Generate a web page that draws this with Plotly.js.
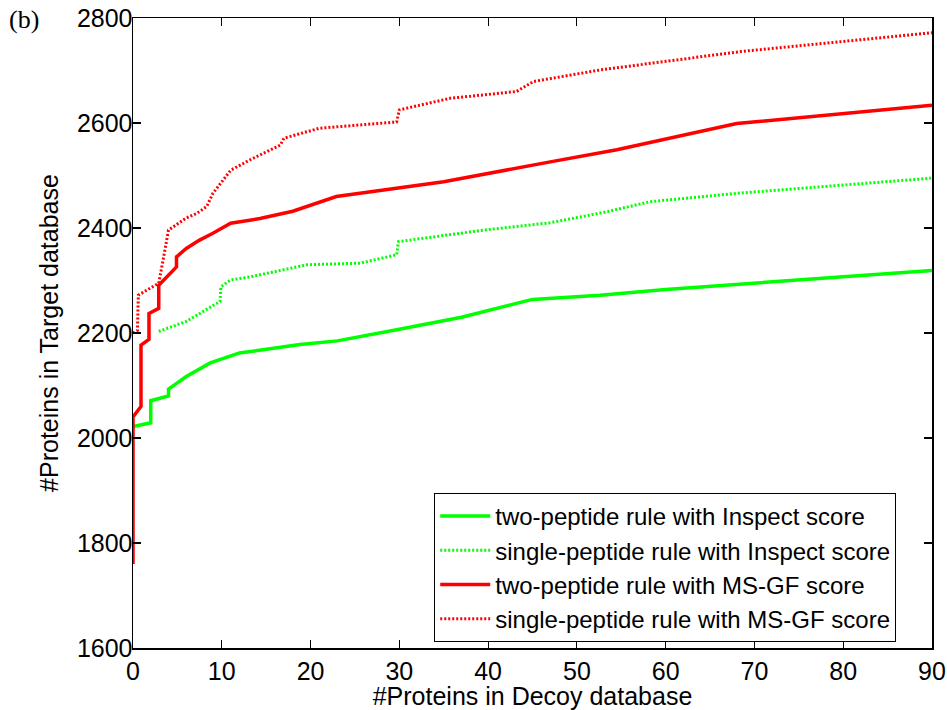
<!DOCTYPE html>
<html>
<head>
<meta charset="utf-8">
<script src="https://cdn.plot.ly/plotly-3.0.1.min.js"></script>
<style>html,body{margin:0;padding:0;background:#fff;}#chart{width:947px;height:710px;}</style>
</head>
<body>
<div id="chart"></div>
<script>
// Two-peptide rule, Inspect score (green solid)
const greenSolidX = [0, 2, 2, 4, 4, 6, 8.7, 12, 18.8, 23, 30, 37, 45, 52.6, 60, 70, 80, 90];
const greenSolidY = [2022, 2029, 2071, 2080, 2093, 2117, 2143, 2162, 2178, 2185, 2207, 2230, 2264, 2272, 2283, 2295, 2307, 2319];

// Single-peptide rule, Inspect score (green dotted)
const greenDotX = [2.9, 6, 9.8, 9.9, 11, 13.2, 19.6, 25.6, 29.7, 29.9, 39.5, 47, 53.4, 58.2, 68, 90];
const greenDotY = [2203, 2222, 2260, 2288, 2301, 2307, 2330, 2333, 2349, 2374, 2396, 2410, 2431, 2450, 2466, 2495];

// Two-peptide rule, MS-GF score (red solid)
const redSolidX = [0, 0, 0.9, 0.9, 1.8, 1.8, 2.9, 2.9, 4.9, 4.9, 6, 7.5, 9, 11, 14.3, 18, 22.9, 35, 47, 54.5, 68, 90];
const redSolidY = [1760, 2040, 2060, 2177, 2188, 2237, 2247, 2291, 2326, 2345, 2361, 2377, 2390, 2409, 2418, 2432, 2460, 2488, 2526, 2549, 2599, 2634];

// Single-peptide rule, MS-GF score (red dotted)
const redDotX = [0, 0.5, 0.6, 2.9, 3.4, 4, 6, 7.2, 8.3, 9, 10, 11, 13.2, 16.6, 17, 21, 29.7, 30, 35.7, 43.2, 45.1, 52.6, 68.4, 90];
const redDotY = [2200, 2205, 2272, 2295, 2340, 2396, 2419, 2428, 2441, 2466, 2488, 2510, 2530, 2558, 2571, 2590, 2602, 2625, 2647, 2660, 2679, 2701, 2736, 2772];

const seriesNames = [
  "two-peptide rule with Inspect score",
  "single-peptide rule with Inspect score",
  "two-peptide rule with MS-GF score",
  "single-peptide rule with MS-GF score"
];

const xTitle = "#Proteins in Decoy database";
const yTitle = "#Proteins in Target database";
const panelLabel = "(b)";

const font = "Arial, 'Liberation Sans', sans-serif";

const traces = [
  {x: greenSolidX, y: greenSolidY, name: seriesNames[0], mode: "lines",
   line: {color: "#00ff00", width: 3.5}},
  {x: greenDotX, y: greenDotY, name: seriesNames[1], mode: "lines",
   line: {color: "#00ff00", width: 3, dash: "2px,2px"}},
  {x: redSolidX, y: redSolidY, name: seriesNames[2], mode: "lines",
   line: {color: "#ff0000", width: 3.5}},
  {x: redDotX, y: redDotY, name: seriesNames[3], mode: "lines",
   line: {color: "#ff0000", width: 3, dash: "2px,2px"}}
];

const axisCommon = {
  showline: true, linecolor: "#000", linewidth: 1.5, mirror: "allticks",
  ticks: "inside", ticklen: 8, tickwidth: 1.2, tickcolor: "#000",
  showgrid: false, zeroline: false,
  tickfont: {family: font, size: 25, color: "#000"}
};

const layout = {
  width: 947, height: 710,
  margin: {l: 133, r: 15, t: 18, b: 62},
  paper_bgcolor: "#fff", plot_bgcolor: "#fff",
  showlegend: true,
  xaxis: Object.assign({}, axisCommon, {
    range: [0, 90], dtick: 10, tick0: 0, ticklabelstandoff: 0,
    title: {text: xTitle, font: {family: font, size: 25, color: "#000"}, standoff: 0}
  }),
  yaxis: Object.assign({}, axisCommon, {
    range: [1600, 2800], dtick: 200, tick0: 1600, ticklabelstandoff: -6,
    title: {text: yTitle, font: {family: font, size: 25, color: "#000"}, standoff: 11}
  }),
  legend: {
    x: 0.377, y: 0.0095, xanchor: "left", yanchor: "bottom",
    bgcolor: "#fff", bordercolor: "#000", borderwidth: 1,
    font: {family: font, size: 24, color: "#000"},
    itemwidth: 50, tracegroupgap: 0
  },
  annotations: [{
    text: panelLabel, xref: "paper", yref: "paper", x: -0.158, y: 0.998,
    xanchor: "left", yanchor: "middle", showarrow: false,
    font: {family: "'Times New Roman', 'Liberation Serif', serif", size: 26, color: "#000"}
  }]
};

Plotly.newPlot("chart", traces, layout, {displayModeBar: false, staticPlot: true});
</script>
</body>
</html>
